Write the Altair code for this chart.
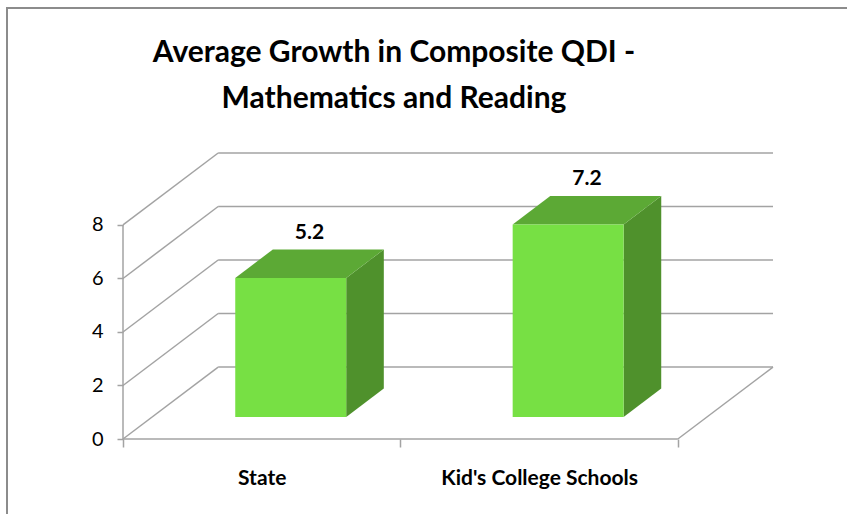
import altair as alt
import pandas as pd

# ---- data ----
categories = ["State", "Kid's College Schools"]
values = [5.2, 7.2]
y_ticks = [0, 2, 4, 6, 8]
title_lines = ["Average Growth in Composite QDI -", "Mathematics and Reading"]

# ---- pseudo-3D geometry (in data units) ----
DU = 0.343      # depth shift along category axis
DV = 2.69       # depth shift along value axis
A, B = 0.305, 0.70   # front / back depth fraction of the bars
W = 0.40        # bar width in category units
N = len(categories)
YMAX = max(y_ticks)

FONT = "Lato"
GRID = "#A3A3A3"
FRONT, TOP, SIDE = "#77E044", "#5CA935", "#4F912C"

xs = alt.Scale(domain=[0, N + DU], nice=False, zero=False)
ys = alt.Scale(domain=[0, YMAX + DV], nice=False, zero=False)

label_expr = " : ".join(
    [f"datum.value == {i + 0.5} ? \"{c}\"" for i, c in enumerate(categories)] + ["''"]
)
AX_X = alt.Axis(
    title=None, values=[i * 0.5 for i in range(2 * N + 1)], labelExpr=label_expr,
    domain=False, grid=False, tickSize=8, tickColor=GRID, tickWidth=1.5,
    tickOpacity={"condition": {"test": "datum.value % 1 != 0", "value": 0}, "value": 1},
    labelFont=FONT, labelFontSize=21, labelFontWeight="bold", labelColor="#000",
    labelPadding=20, labelAngle=0, labelLimit=500, labelOverlap=False)
AX_Y = alt.Axis(
    title=None, values=y_ticks, domain=False, grid=False, tickSize=6,
    tickColor=GRID, tickWidth=1.5, labelFont=FONT, labelFontSize=20,
    labelColor="#000", labelPadding=14)

# gridlines: side wall + back wall
grid_rows = []
for t in y_ticks:
    grid_rows.append({"u": 0, "v": t, "u2": DU, "v2": t + DV})
    grid_rows.append({"u": DU, "v": t + DV, "u2": N + DU, "v2": t + DV})
# floor front and right edge, value axis line
grid_rows.append({"u": 0, "v": 0, "u2": N, "v2": 0})
grid_rows.append({"u": N, "v": 0, "u2": N + DU, "v2": DV})
grid_rows.append({"u": 0, "v": 0, "u2": 0, "v2": YMAX})
grid_df = pd.DataFrame(grid_rows)

grid = alt.Chart(grid_df).mark_rule(color=GRID, strokeWidth=1.5).encode(
    x=alt.X("u:Q", scale=xs, axis=AX_X),
    y=alt.Y("v:Q", scale=ys, axis=AX_Y),
    x2="u2:Q", y2="v2:Q",
)

# bars
front_rows, top_rows, side_rows, lab_rows = [], [], [], []
for i, (c, v) in enumerate(zip(categories, values)):
    left = i + 0.5 - W / 2
    right = i + 0.5 + W / 2
    front_rows.append({"cat": c, "x": left + A * DU, "x2": right + A * DU,
                       "y": A * DV, "y2": v + A * DV})
    for f in (A, B):
        top_rows.append({"cat": c, "v": v + f * DV, "xl": left + f * DU, "xr": right + f * DU})
        side_rows.append({"cat": c, "u": right + f * DU, "y": f * DV, "y2": v + f * DV})
    lab_rows.append({"cat": c, "u": i + 0.5 + (A + B) / 2 * DU, "v": v + B * DV,
                     "label": f"{v:.1f}"})

front = alt.Chart(pd.DataFrame(front_rows)).mark_rect(color=FRONT).encode(
    x=alt.X("x:Q", scale=xs, axis=AX_X), x2="x2:Q",
    y=alt.Y("y:Q", scale=ys, axis=AX_Y), y2="y2:Q",
)
top = alt.Chart(pd.DataFrame(top_rows)).mark_area(color=TOP, orient="horizontal").encode(
    y=alt.Y("v:Q", scale=ys, axis=AX_Y),
    x=alt.X("xl:Q", scale=xs, axis=AX_X, stack=None), x2="xr:Q",
    detail="cat:N",
)
side = alt.Chart(pd.DataFrame(side_rows)).mark_area(color=SIDE, orient="vertical").encode(
    x=alt.X("u:Q", scale=xs, axis=AX_X),
    y=alt.Y("y:Q", scale=ys, axis=AX_Y, stack=None), y2="y2:Q",
    detail="cat:N",
)
labels = alt.Chart(pd.DataFrame(lab_rows)).mark_text(
    font=FONT, fontSize=21, fontWeight="bold", color="#000", dy=-17, baseline="middle"
).encode(
    x=alt.X("u:Q", scale=xs, axis=AX_X),
    y=alt.Y("v:Q", scale=ys, axis=AX_Y),
    text="label:N",
)

# outer chart frame (decoration)
frame_df = pd.DataFrame({"k": [0]})
frame_left = alt.Chart(frame_df).mark_rule(color="#8C8C8C", strokeWidth=2).encode(
    x=alt.value(-116), y=alt.value(-145), y2=alt.value(370))
frame_top = alt.Chart(frame_df).mark_rule(color="#8C8C8C", strokeWidth=2).encode(
    x=alt.value(-117), x2=alt.value(730), y=alt.value(-145))

chart = alt.layer(grid, side, top, front, labels, frame_left, frame_top).properties(
    width=650, height=286,
    title=alt.TitleParams(
        text=title_lines, font=FONT, fontSize=30, fontWeight="bold", color="#000",
        anchor="middle", frame="group", dx=-54, lineHeight=46, offset=-137,
        baseline="bottom",
    ),
    autosize=alt.AutoSizeParams(type="none"),
    padding={"left": 123, "top": 153, "right": 74, "bottom": 75},
    background="white",
).configure_view(strokeWidth=0)

chart.save("out.html", embed_options={"renderer": "svg", "actions": False})
